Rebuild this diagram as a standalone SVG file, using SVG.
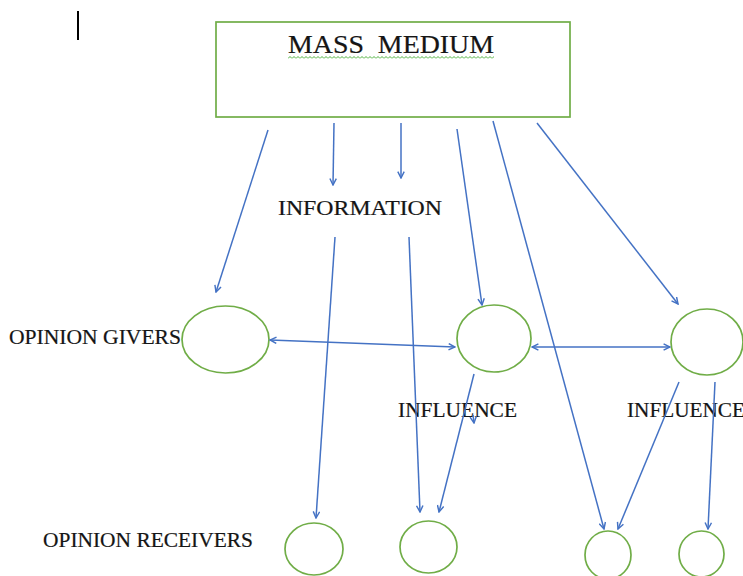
<svg xmlns="http://www.w3.org/2000/svg" width="743" height="576" viewBox="0 0 743 576">
<style>
.node{fill:none;stroke:#70AD47;stroke-width:1.7}
.lbl{font-family:"Liberation Serif","Times New Roman",serif;fill:#151515;stroke:#151515;stroke-width:0.2}
.c{fill:none;stroke:#4472C4;stroke-width:1.5}
</style>
<defs>
<marker id="ah" viewBox="0 0 10 10" refX="9" refY="5" markerWidth="8" markerHeight="8" markerUnits="userSpaceOnUse" orient="auto-start-reverse">
<path d="M1,1 L9,5 L1,9" fill="none" stroke="#4472C4" stroke-width="1.8"/>
</marker>
<pattern id="wave" x="288" y="56" width="4" height="3" patternUnits="userSpaceOnUse">
<path d="M0,2.5 L2,0.5 L4,2.5" fill="none" stroke="#4CAF3A" stroke-width="1"/>
</pattern>
</defs>
<rect width="743" height="576" fill="#fff"/>
<line x1="78" y1="11" x2="78" y2="40" stroke="#000" stroke-width="2"/>
<g id="mass-medium">
<rect class="node" x="216" y="22" width="354" height="95"/>
<text class="lbl" x="288" y="53" font-size="25" textLength="206" lengthAdjust="spacingAndGlyphs" xml:space="preserve">MASS  MEDIUM</text>
<rect x="288" y="56" width="206" height="3" fill="url(#wave)"/>
</g>
<g id="information">
<text class="lbl" x="278" y="215" font-size="21" textLength="164" lengthAdjust="spacingAndGlyphs">INFORMATION</text>
</g>
<g id="opinion-givers-label">
<text class="lbl" x="9" y="344" font-size="20" textLength="172" lengthAdjust="spacingAndGlyphs">OPINION GIVERS</text>
</g>
<g id="opinion-receivers-label">
<text class="lbl" x="43" y="547" font-size="20" textLength="210" lengthAdjust="spacingAndGlyphs">OPINION RECEIVERS</text>
</g>
<g id="influence-1">
<text class="lbl" x="398" y="417" font-size="20" textLength="119" lengthAdjust="spacingAndGlyphs">INFLUENCE</text>
</g>
<g id="influence-2">
<text class="lbl" x="627" y="417" font-size="20" textLength="118" lengthAdjust="spacingAndGlyphs">INFLUENCE</text>
</g>
<g id="giver-1"><ellipse class="node" cx="225.5" cy="339.5" rx="43.5" ry="33.5"/></g>
<g id="giver-2"><ellipse class="node" cx="494" cy="338.5" rx="37" ry="33.5"/></g>
<g id="giver-3"><ellipse class="node" cx="707" cy="342" rx="36" ry="33"/></g>
<g id="receiver-1"><ellipse class="node" cx="314" cy="549" rx="29" ry="26"/></g>
<g id="receiver-2"><ellipse class="node" cx="428.5" cy="547" rx="28.5" ry="26"/></g>
<g id="receiver-3"><ellipse class="node" cx="608" cy="555" rx="23" ry="24"/></g>
<g id="receiver-4"><ellipse class="node" cx="701.5" cy="554" rx="22.5" ry="23"/></g>
<g id="connectors">
<line class="c" x1="268" y1="130" x2="216" y2="292" marker-end="url(#ah)"/>
<line class="c" x1="334" y1="123" x2="333" y2="185" marker-end="url(#ah)"/>
<line class="c" x1="401" y1="123" x2="401" y2="178" marker-end="url(#ah)"/>
<line class="c" x1="457" y1="129" x2="482" y2="305" marker-end="url(#ah)"/>
<line class="c" x1="493" y1="121" x2="604" y2="529" marker-end="url(#ah)"/>
<line class="c" x1="537" y1="123" x2="678" y2="304" marker-end="url(#ah)"/>
<line class="c" x1="335" y1="237" x2="316" y2="518" marker-end="url(#ah)"/>
<line class="c" x1="409" y1="237" x2="420" y2="512" marker-end="url(#ah)"/>
<line class="c" x1="270" y1="340" x2="455" y2="347" marker-start="url(#ah)" marker-end="url(#ah)"/>
<line class="c" x1="532" y1="347" x2="670" y2="347" marker-start="url(#ah)" marker-end="url(#ah)"/>
<line class="c" x1="474" y1="374" x2="439" y2="512" marker-end="url(#ah)"/>
<line class="c" x1="473" y1="415" x2="474" y2="423" marker-end="url(#ah)"/>
<line class="c" x1="679" y1="382" x2="618" y2="529" marker-end="url(#ah)"/>
<line class="c" x1="715" y1="382" x2="708" y2="529" marker-end="url(#ah)"/>
</g>
</svg>
